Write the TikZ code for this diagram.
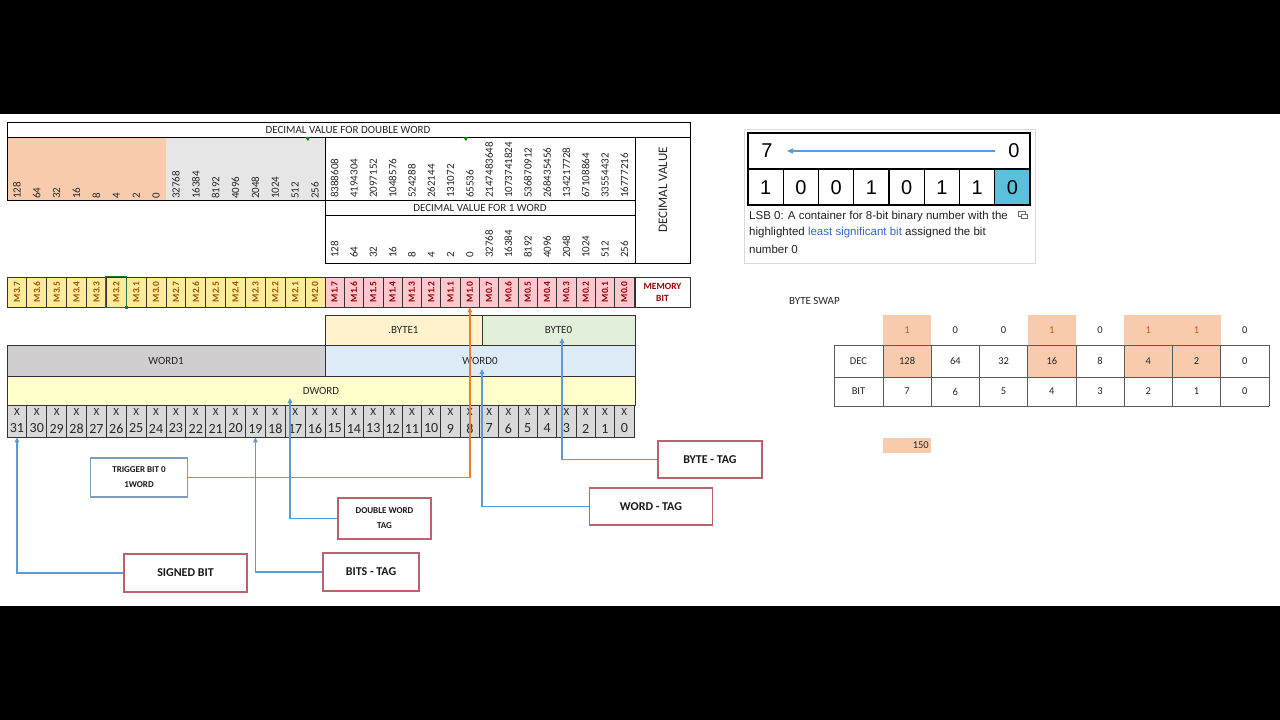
\documentclass[tikz,border=0pt]{standalone}
\usepackage{fontspec}
\usepackage{graphicx}
\setmainfont{Carlito}
\newfontfamily\arialf{Liberation Sans}
\usetikzlibrary{arrows.meta,calc}
\definecolor{orf}{HTML}{F8CBAD}
\definecolor{grf}{HTML}{E7E6E6}
\definecolor{myyel}{HTML}{FFEB9C}
\definecolor{myyeltxt}{HTML}{9C5700}
\definecolor{mypink}{HTML}{FFC7CE}
\definecolor{mypinktxt}{HTML}{9C0006}
\definecolor{bonef}{HTML}{FFF2CC}
\definecolor{bzerof}{HTML}{E2EFDA}
\definecolor{wonef}{HTML}{D0CECE}
\definecolor{wzerof}{HTML}{DDEBF7}
\definecolor{dwf}{HTML}{FFFFCC}
\definecolor{xf}{HTML}{D9D9D9}
\definecolor{arrbc}{HTML}{5B9BD5}
\definecolor{arroc}{HTML}{ED7D31}
\definecolor{boxrc}{HTML}{B9636A}
\definecolor{boxbc}{HTML}{7F9DB9}
\definecolor{tealc}{HTML}{5BC0DE}
\definecolor{linkc}{HTML}{3366CC}
\definecolor{captc}{HTML}{202122}
\definecolor{ortxt}{HTML}{C55A11}
\definecolor{greenmk}{HTML}{217346}
\begin{document}
\begin{tikzpicture}[x=1pt,y=-1pt,
  tl/.style={draw=black, line width=1pt},
  numtxt/.style={rotate=90, anchor=west, inner sep=0pt, text=black!85, font=\fontsize{11}{11}\selectfont},
  hdr/.style={inner sep=0pt, text=black!85, font=\fontsize{11}{11}\selectfont},
  mcell/.style={draw=black!80, line width=0.8pt, minimum height=30pt, inner sep=0pt, font=\bfseries\fontsize{9.5}{9.5}\selectfont},
  blk/.style={draw=black!80, line width=1pt, inner sep=0pt, text=black!85, font=\fontsize{11}{11}\selectfont},
  xcell/.style={draw=black!80, line width=0.8pt, fill=xf, minimum height=32pt, inner sep=0pt},
  arrB/.style={draw=arrbc, line width=1.3pt, -{Triangle[length=5pt,width=4.5pt]}},
  arrO/.style={draw=arroc, line width=1.4pt, -{Triangle[length=5pt,width=4.5pt]}},
  tagbox/.style={draw=boxrc, line width=1.2pt, fill=white, inner sep=0pt, align=center, text=black!90},
  capt/.style={anchor=west, inner sep=0pt, text=captc, font=\arialf\fontsize{11.5}{11.5}\selectfont},
  bsw/.style={inner sep=0pt, text=black!85, font=\fontsize{10.5}{10.5}\selectfont},
  gridl/.style={draw=black!65, line width=0.8pt}
]
\useasboundingbox (0,0) rectangle (1280,720);
\fill[black] (0,0) rectangle (1280,720);
\fill[white] (0,114) rectangle (1280,606);

% ---------- top decimal table ----------
\fill[orf] (7,137) rectangle (166,200);
\fill[grf] (166,137) rectangle (325,200);
\draw[tl] (7,122) rectangle (690,137);
\draw[tl] (7,137) -- (7,200) -- (325,200);
\draw[tl] (325,137) -- (325,263) -- (690,263) -- (690,137);
\draw[tl] (635,137) -- (635,263);
\draw[tl] (325,200) -- (635,200);
\draw[tl] (325,215) -- (635,215);
\fill[green!50!black] (305,137) -- (310,137) -- (308,141) -- cycle;
\fill[green!50!black] (463,137) -- (468,137) -- (466,141) -- cycle;
\node[hdr] (hdrdw) at (348,130) {DECIMAL VALUE FOR DOUBLE WORD};
\node[hdr] (hdrw) at (480,207.5) {DECIMAL VALUE FOR 1 WORD};
\node[hdr, rotate=90, font=\fontsize{13}{13}\selectfont] (hdrdv) at (663,190) {DECIMAL VALUE};
\foreach \v [count=\k from 0] in {128,64,32,16,8,4,2,0,32768,16384,8192,4096,2048,1024,512,256} {
  \pgfmathsetmacro{\cx}{7+(\k+0.5)*19.875}
  \node[numtxt] (tl\k) at (\cx,199) {\v};
}
\foreach \v [count=\k from 0] in {8388608,4194304,2097152,1048576,524288,262144,131072,65536,2147483648,1073741824,536870912,268435456,134217728,67108864,33554432,16777216} {
  \pgfmathsetmacro{\cx}{325+(\k+0.5)*19.3125}
  \node[numtxt] (tr\k) at (\cx,198) {\v};
}
\foreach \v [count=\k from 0] in {128,64,32,16,8,4,2,0,32768,16384,8192,4096,2048,1024,512,256} {
  \pgfmathsetmacro{\cx}{325+(\k+0.5)*19.3125}
  \node[numtxt] (tw\k) at (\cx,258) {\v};
}

% ---------- memory bits ----------
\foreach \i in {0,...,31} {
  \pgfmathtruncatemacro{\by}{3-floor(\i/8)}
  \pgfmathtruncatemacro{\bt}{7-mod(\i,8)}
  \pgfmathsetmacro{\cx}{\i<16 ? 7+(\i+0.5)*19.875 : 325+(\i-15.5)*19.3125}
  \pgfmathsetmacro{\cw}{\i<16 ? 19.875 : 19.3125}
  \ifnum\by>1 \def\mfc{myyel}\def\mtc{myyeltxt}\else\def\mfc{mypink}\def\mtc{mypinktxt}\fi
  \node[mcell, fill=\mfc, text=\mtc, minimum width=\cw] (m\by\bt) at (\cx,292) {\rotatebox{90}{M\by.\bt}};
}
\draw[draw=greenmk, line width=1pt] (m32.south west) rectangle (m32.north east);
\fill[greenmk] ($(m32.south east)+(-1.5,-1.5)$) rectangle ($(m32.south east)+(1.5,1.5)$);
\node[mcell, minimum width=55, fill=white, text=mypinktxt, align=center, font=\bfseries\fontsize{9.5}{12}\selectfont] (membit) at (662.5,292) {MEMORY\\BIT};

% ---------- byte / word / dword ----------
\node[blk, fill=bonef, minimum width=157, minimum height=30] (byte1) at (403.5,330) {.BYTE1};
\node[blk, fill=bzerof, minimum width=153, minimum height=30] (byte0) at (558.5,330) {BYTE0};
\node[blk, fill=wonef, minimum width=318, minimum height=31] (word1) at (166,360.5) {WORD1};
\node[blk, fill=wzerof, minimum width=310, minimum height=31] (word0) at (480,360.5) {WORD0};
\node[blk, fill=dwf, minimum width=628, minimum height=29] (dword) at (321,390.5) {DWORD};

% ---------- X row ----------
\foreach \i in {0,...,31} {
  \pgfmathtruncatemacro{\nb}{31-\i}
  \pgfmathsetmacro{\cx}{\i<16 ? 7+(\i+0.5)*19.875 : 325+(\i-15.5)*19.3125}
  \pgfmathsetmacro{\cw}{\i<16 ? 19.875 : 19.3125}
  \node[xcell, minimum width=\cw] (xb\nb) at (\cx,421) {};
  \node[inner sep=0pt, text=black!85, font=\fontsize{11}{11}\selectfont] (xl\nb) at (\cx,412) {X};
  \node[inner sep=0pt, text=black!85, font=\fontsize{14}{14}\selectfont] (xn\nb) at (\cx,428.5) {\nb};
}

% ---------- tag boxes ----------
\node[tagbox, draw=boxbc, minimum width=97, minimum height=39, font=\bfseries\fontsize{9}{15}\selectfont] (trig) at (139,477.5) {TRIGGER BIT 0\\1WORD};
\node[tagbox, minimum width=93, minimum height=41, font=\bfseries\fontsize{9}{15}\selectfont] (dwt) at (384.5,518.5) {DOUBLE WORD\\TAG};
\node[tagbox, minimum width=123, minimum height=38, font=\bfseries\fontsize{12}{12}\selectfont] (signed) at (185.5,573) {SIGNED BIT};
\node[tagbox, minimum width=96, minimum height=38, font=\bfseries\fontsize{12}{12}\selectfont] (bits) at (371,572) {BITS - TAG};
\node[tagbox, minimum width=104, minimum height=37, font=\bfseries\fontsize{12}{12}\selectfont] (bytet) at (710,459.5) {BYTE - TAG};
\node[tagbox, minimum width=123, minimum height=37, font=\bfseries\fontsize{12}{12}\selectfont] (wordt) at (651,506.5) {WORD - TAG};

\coordinate (dwtip) at (290,398);
\coordinate (wtip) at (482,369);
\coordinate (btip) at (562,338);
\draw[arrO] (trig.east) -| (m10.south);
\draw[arrB] (signed.west) -| (xb31.south);
\draw[arrB] (bits.west) -| (xb19.south);
\draw[arrB] (dwt.west) -| (dwtip);
\draw[arrB] (wordt.west) -| (wtip);
\draw[arrB] (bytet.west) -| (btip);

% ---------- LSB 0 figure ----------
\draw[draw=black!15, line width=1pt] (744,129) rectangle (1035,263);
\fill[tealc] (994.75,169) rectangle (1030,205);
\draw[line width=1.3pt] (748,133) rectangle (1030,205);
\draw[line width=1.3pt] (748,169) -- (1030,169);
\foreach \k in {1,...,7} { \draw[line width=1.3pt] ({748+\k*35.25},169) -- ({748+\k*35.25},205); }
\node[inner sep=0pt, font=\arialf\fontsize{20}{20}\selectfont] (lsev) at (767,151) {7};
\node[inner sep=0pt, font=\arialf\fontsize{20}{20}\selectfont] (lzer) at (1014,151) {0};
\coordinate (lsbA) at (995,151);
\coordinate (lsbB) at (787,151);
\draw[draw=arrbc, line width=1.4pt, -{Triangle[length=6pt,width=5pt]}] (lsbA) -- (lsbB);
\foreach \v [count=\k from 0] in {1,0,0,1,0,1,1,0} {
  \node[inner sep=0pt, font=\arialf\fontsize{20}{20}\selectfont] (lb\k) at ({748+(\k+0.5)*35.25},187.5) {\v};
}
\node[capt] (capa) at (749,217) {LSB 0: A container for 8-bit binary number with the};
\node[capt] (capb) at (749,233) {highlighted \textcolor{linkc}{least significant bit} assigned the bit};
\node[capt] (capc) at (749,249) {number 0};
\draw[draw=black!60, line width=0.7pt] (1018,211) rectangle (1025,216);
\draw[draw=black!60, line width=0.7pt, fill=white] (1021,214) rectangle (1027,218);

% ---------- byte swap ----------
\node[bsw, anchor=west, font=\fontsize{11}{11}\selectfont] (bswap) at (789,300.5) {BYTE SWAP};
\foreach \j in {0,3,5,6} { \fill[orf] ({883+\j*48.25},315) rectangle ({883+(\j+1)*48.25},377); }
\foreach \yy in {345,377,406} { \draw[gridl] (834,\yy) -- (1269,\yy); }
\draw[gridl] (834,345) -- (834,406);
\foreach \k in {0,...,8} { \draw[gridl] ({883+\k*48.25},345) -- ({883+\k*48.25},406); }
\node[bsw] (declab) at (858.5,361) {DEC};
\node[bsw] (bitlab) at (858.5,391.5) {BIT};
\foreach \v [count=\k from 0] in {1,0,0,1,0,1,1,0} {
  \ifnum\v=1 \def\vcol{ortxt}\else\def\vcol{black!85}\fi
  \node[bsw, text=\vcol] (tv\k) at ({883+(\k+0.5)*48.25},330) {\v};
}
\foreach \v [count=\k from 0] in {128,64,32,16,8,4,2,0} {
  \node[bsw] (dv\k) at ({883+(\k+0.5)*48.25},361) {\v};
}
\foreach \v [count=\k from 0] in {7,6,5,4,3,2,1,0} {
  \node[bsw] (bv\k) at ({883+(\k+0.5)*48.25},391.5) {\v};
}
\fill[orf] (883,438) rectangle (931,453);
\node[bsw, anchor=east] (sumv) at (929,445.5) {150};
\end{tikzpicture}
\end{document}
